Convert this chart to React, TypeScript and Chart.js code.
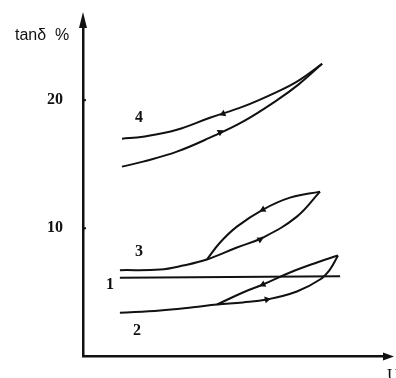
import React, { useEffect, useRef } from "react";
import { Chart, registerables } from "chart.js";

Chart.register(...registerables);

const INK = "#111111";

// y-axis tick labels (tanδ, %)
const tanTicks = [10, 20];

// Curve 4: upper (return) and lower (rising) branches
const curve4U = [13, 20, 31.3, 42.3, 53.3, 64.7, 72, 79.7];
const curve4UpperTan = [16.99, 17.15, 17.69, 18.63, 19.49, 20.65, 21.55, 22.84];
const curve4LowerTan = [14.81, 15.2, 15.98, 17.07, 18.32, 20.0, 21.25, 22.84];

// Curve 3: flat start + lower branch, and upper branch of the loop
const curve3LowerU = [12.3, 25.7, 33.3, 41.3, 51.3, 60, 71.3, 79];
const curve3LowerTan = [6.73, 6.78, 7.09, 7.56, 8.5, 9.28, 10.91, 12.86];
const curve3UpperU = [41.3, 45.7, 51.3, 60, 69, 79];
const curve3UpperTan = [7.56, 8.89, 10.13, 11.46, 12.39, 12.86];

// Curve 1: nearly constant
const curve1U = [12.3, 85.7];
const curve1Tan = [6.14, 6.26];

// Curve 2: flat start + lower branch, and upper branch of the loop
const curve2LowerU = [12.3, 25.7, 36.7, 44.7, 53.3, 61.3, 71.3, 79, 82.3, 85];
const curve2LowerTan = [3.41, 3.59, 3.84, 4.05, 4.21, 4.44, 5.07, 6.0, 6.78, 7.87];
const curve2UpperU = [44.7, 53.3, 60, 69, 78, 85];
const curve2UpperTan = [4.05, 4.99, 5.61, 6.55, 7.33, 7.87];

// Direction arrows on the branches
const arrowU = [46.7, 45.7, 60, 59, 60, 61.3];
const arrowTan = [18.94, 17.5, 11.46, 9.12, 5.61, 4.44];
const arrowHeadingDeg = [248, 63, 243, 62, 245, 78];

// Curve labels
const labelText = ["4", "3", "1", "2"];
const labelU = [18.7, 18.7, 9, 18];
const labelTan = [18.63, 8.18, 5.61, 2.03];

const pts = (xs: number[], ys: number[]) => xs.map((x, i) => ({ x, y: ys[i] }));

const lineDs = (data: { x: number; y: number }[]) => ({
  data,
  showLine: true,
  borderColor: INK,
  borderWidth: 2,
  pointRadius: 0,
  pointHoverRadius: 0,
  tension: 0.4,
  fill: false,
});

const decorPlugin = {
  id: "decor",
  afterDraw(chart: any) {
    const { ctx, chartArea, scales } = chart;
    const { left, top, right, bottom } = chartArea;
    const ys = scales.y;
    const xs = scales.x;
    ctx.save();
    ctx.fillStyle = INK;
    // axis arrowheads
    ctx.beginPath();
    ctx.moveTo(left, top - 10);
    ctx.lineTo(left - 4, top + 6);
    ctx.lineTo(left + 4, top + 6);
    ctx.closePath();
    ctx.fill();
    ctx.beginPath();
    ctx.moveTo(right + 8, bottom);
    ctx.lineTo(right - 3, bottom - 4);
    ctx.lineTo(right - 3, bottom + 4);
    ctx.closePath();
    ctx.fill();
    // small tick marks
    tanTicks.forEach((v) => {
      const py = ys.getPixelForValue(v);
      ctx.fillRect(left, py - 1, 3, 2);
    });
    // axis titles
    ctx.font = '16px "Liberation Sans"';
    ctx.textAlign = "left";
    ctx.textBaseline = "middle";
    ctx.fillText("tanδ  %", left - 68, top + 14);
    ctx.font = '17px "Liberation Serif"';
    ctx.textBaseline = "top";
    ctx.fillText("U", right + 1, bottom + 11);
    // curve labels
    ctx.font = 'bold 16px "Liberation Serif"';
    ctx.textAlign = "center";
    ctx.textBaseline = "middle";
    labelText.forEach((t, i) => {
      ctx.fillText(t, xs.getPixelForValue(labelU[i]), ys.getPixelForValue(labelTan[i]));
    });
    ctx.restore();
  },
};

export default function App() {
  const ref = useRef<HTMLCanvasElement>(null);
  useEffect(() => {
    document.body.style.margin = "0";
    const canvas = ref.current;
    if (!canvas) return;
    const chart = new Chart(canvas, {
      type: "scatter",
      data: {
        datasets: [
          lineDs(pts(curve4U, curve4UpperTan)),
          lineDs(pts(curve4U, curve4LowerTan)),
          lineDs(pts(curve3LowerU, curve3LowerTan)),
          lineDs(pts(curve3UpperU, curve3UpperTan)),
          lineDs(pts(curve1U, curve1Tan)),
          lineDs(pts(curve2LowerU, curve2LowerTan)),
          lineDs(pts(curve2UpperU, curve2UpperTan)),
          {
            data: pts(arrowU, arrowTan),
            showLine: false,
            pointStyle: "triangle",
            pointRadius: 4,
            pointHoverRadius: 4,
            pointRotation: arrowHeadingDeg,
            backgroundColor: INK,
            borderColor: INK,
            borderWidth: 0,
          } as any,
        ],
      },
      options: {
        responsive: false,
        animation: false,
        events: [],
        layout: { padding: { top: 22, right: 10, left: 0, bottom: 0 } },
        plugins: {
          legend: { display: false },
          tooltip: { enabled: false },
          title: { display: false },
        },
        scales: {
          x: {
            type: "linear",
            min: 0,
            max: 101,
            grid: { display: false },
            border: { display: true, color: INK, width: 2.5 },
            ticks: { display: false },
            afterFit: (s: any) => {
              s.height = 21;
            },
          },
          y: {
            type: "linear",
            min: 0,
            max: 26.1,
            grid: { display: false },
            border: { display: true, color: INK, width: 2.5 },
            ticks: {
              color: INK,
              padding: 12,
              font: { family: '"Liberation Serif"', size: 16, weight: "bold" },
            },
            afterBuildTicks: (s: any) => {
              s.ticks = tanTicks.map((v) => ({ value: v }));
            },
            afterFit: (s: any) => {
              s.width = 83;
            },
          },
        },
      },
      plugins: [decorPlugin],
    });
    return () => chart.destroy();
  }, []);
  return (
    <div style={{ position: "fixed", left: 0, top: 0, width: 396, height: 378 }}>
      <canvas ref={ref} width={396} height={378} />
    </div>
  );
}
